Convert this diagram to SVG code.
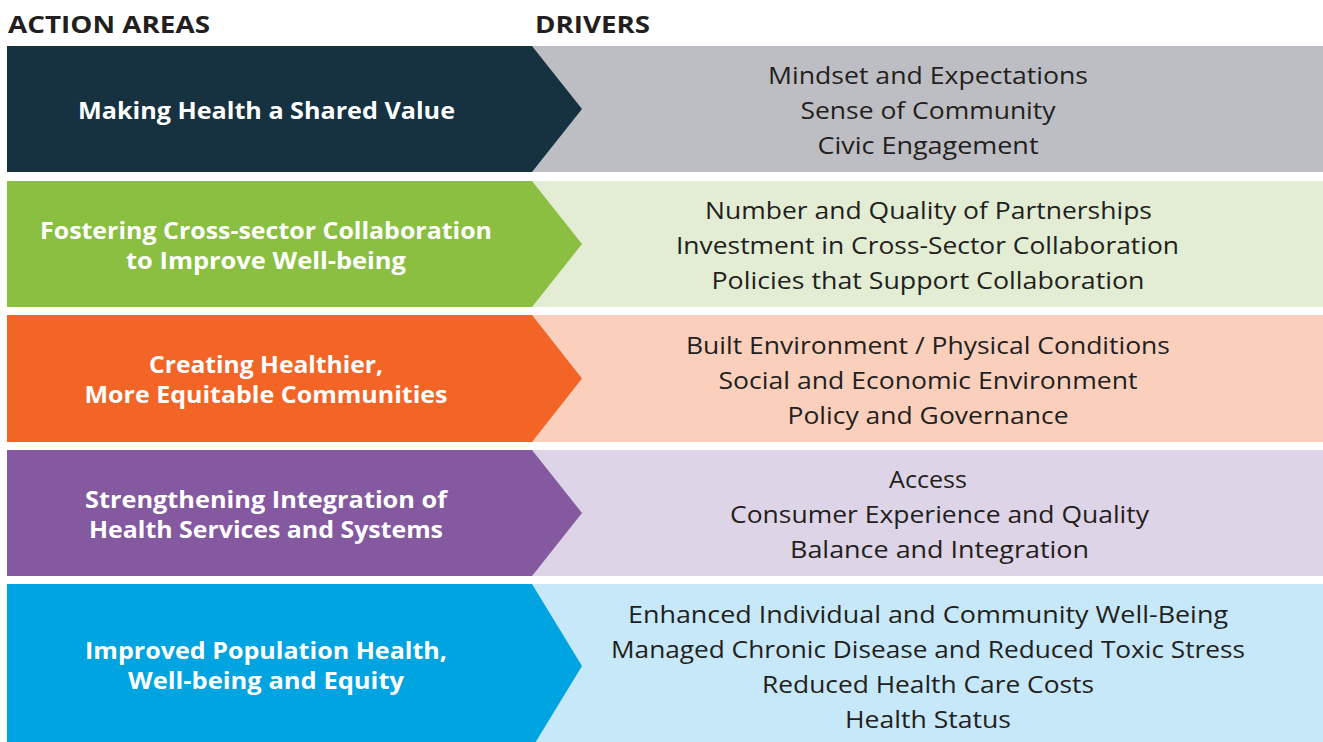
<svg xmlns="http://www.w3.org/2000/svg" width="1323" height="742" viewBox="0 0 1323 742">
<style>
.hd{font-family:"Open Sans","Noto Sans",sans-serif;font-weight:700;font-size:23px;fill:#231f20}
.lt{font-family:"Open Sans","Noto Sans",sans-serif;font-weight:700;font-size:24px;fill:#ffffff;text-anchor:middle}
.rt{font-family:"Open Sans","Noto Sans",sans-serif;font-weight:400;font-size:24px;fill:#231f20;text-anchor:middle}
</style>
<rect x="0" y="0" width="1323" height="742" fill="#ffffff"/>
<g id="headers">
<text class="hd" x="8" y="33" textLength="202" lengthAdjust="spacingAndGlyphs">ACTION AREAS</text>
<text class="hd" x="535" y="33" textLength="115" lengthAdjust="spacingAndGlyphs">DRIVERS</text>
</g>
<g id="connectors"></g>
<g id="row1">
<rect x="532" y="46" width="791" height="126" fill="#bdbec3"/>
<polygon points="7,46 532,46 582,109 532,172 7,172" fill="#163140"/>
<text class="lt" x="266.5" y="119" textLength="377" lengthAdjust="spacingAndGlyphs">Making Health a Shared Value</text>
<text class="rt" x="928" y="84" textLength="320" lengthAdjust="spacingAndGlyphs">Mindset and Expectations</text>
<text class="rt" x="928" y="119" textLength="255" lengthAdjust="spacingAndGlyphs">Sense of Community</text>
<text class="rt" x="928" y="154" textLength="221" lengthAdjust="spacingAndGlyphs">Civic Engagement</text>
</g>
<g id="row2">
<rect x="532" y="181" width="791" height="126" fill="#e2edd4"/>
<polygon points="7,181 532,181 582,244 532,307 7,307" fill="#8abf42"/>
<text class="lt" x="266" y="239" textLength="452" lengthAdjust="spacingAndGlyphs">Fostering Cross-sector Collaboration</text>
<text class="lt" x="266" y="269" textLength="280" lengthAdjust="spacingAndGlyphs">to Improve Well-being</text>
<text class="rt" x="928.5" y="219" textLength="447" lengthAdjust="spacingAndGlyphs">Number and Quality of Partnerships</text>
<text class="rt" x="927.5" y="254" textLength="503" lengthAdjust="spacingAndGlyphs">Investment in Cross-Sector Collaboration</text>
<text class="rt" x="928" y="289" textLength="433" lengthAdjust="spacingAndGlyphs">Policies that Support Collaboration</text>
</g>
<g id="row3">
<rect x="532" y="315" width="791" height="127" fill="#fad0bd"/>
<polygon points="7,315 532,315 582,378.5 532,442 7,442" fill="#f26527"/>
<text class="lt" x="266" y="373" textLength="234" lengthAdjust="spacingAndGlyphs">Creating Healthier,</text>
<text class="lt" x="266" y="403" textLength="363" lengthAdjust="spacingAndGlyphs">More Equitable Communities</text>
<text class="rt" x="928" y="354" textLength="484" lengthAdjust="spacingAndGlyphs">Built Environment / Physical Conditions</text>
<text class="rt" x="928" y="389" textLength="419" lengthAdjust="spacingAndGlyphs">Social and Economic Environment</text>
<text class="rt" x="928" y="424" textLength="281" lengthAdjust="spacingAndGlyphs">Policy and Governance</text>
</g>
<g id="row4">
<rect x="532" y="450" width="791" height="126" fill="#ded4e7"/>
<polygon points="7,450 532,450 582,513 532,576 7,576" fill="#8459a0"/>
<text class="lt" x="266" y="508" textLength="362" lengthAdjust="spacingAndGlyphs">Strengthening Integration of</text>
<text class="lt" x="266" y="538" textLength="354" lengthAdjust="spacingAndGlyphs">Health Services and Systems</text>
<text class="rt" x="928" y="488" textLength="78" lengthAdjust="spacingAndGlyphs">Access</text>
<text class="rt" x="939.5" y="523" textLength="419" lengthAdjust="spacingAndGlyphs">Consumer Experience and Quality</text>
<text class="rt" x="939.5" y="558" textLength="299" lengthAdjust="spacingAndGlyphs">Balance and Integration</text>
</g>
<g id="row5">
<rect x="532" y="584" width="791" height="164" fill="#c6e8f8"/>
<polygon points="7,584 532,584 582,666 532,748 7,748" fill="#00a4e0"/>
<text class="lt" x="266" y="659" textLength="362" lengthAdjust="spacingAndGlyphs">Improved Population Health,</text>
<text class="lt" x="266" y="689" textLength="276" lengthAdjust="spacingAndGlyphs">Well-being and Equity</text>
<text class="rt" x="928" y="623" textLength="600" lengthAdjust="spacingAndGlyphs">Enhanced Individual and Community Well-Being</text>
<text class="rt" x="928" y="658" textLength="634" lengthAdjust="spacingAndGlyphs">Managed Chronic Disease and Reduced Toxic Stress</text>
<text class="rt" x="928" y="693" textLength="332" lengthAdjust="spacingAndGlyphs">Reduced Health Care Costs</text>
<text class="rt" x="928" y="728" textLength="166" lengthAdjust="spacingAndGlyphs">Health Status</text>
</g>
</svg>
